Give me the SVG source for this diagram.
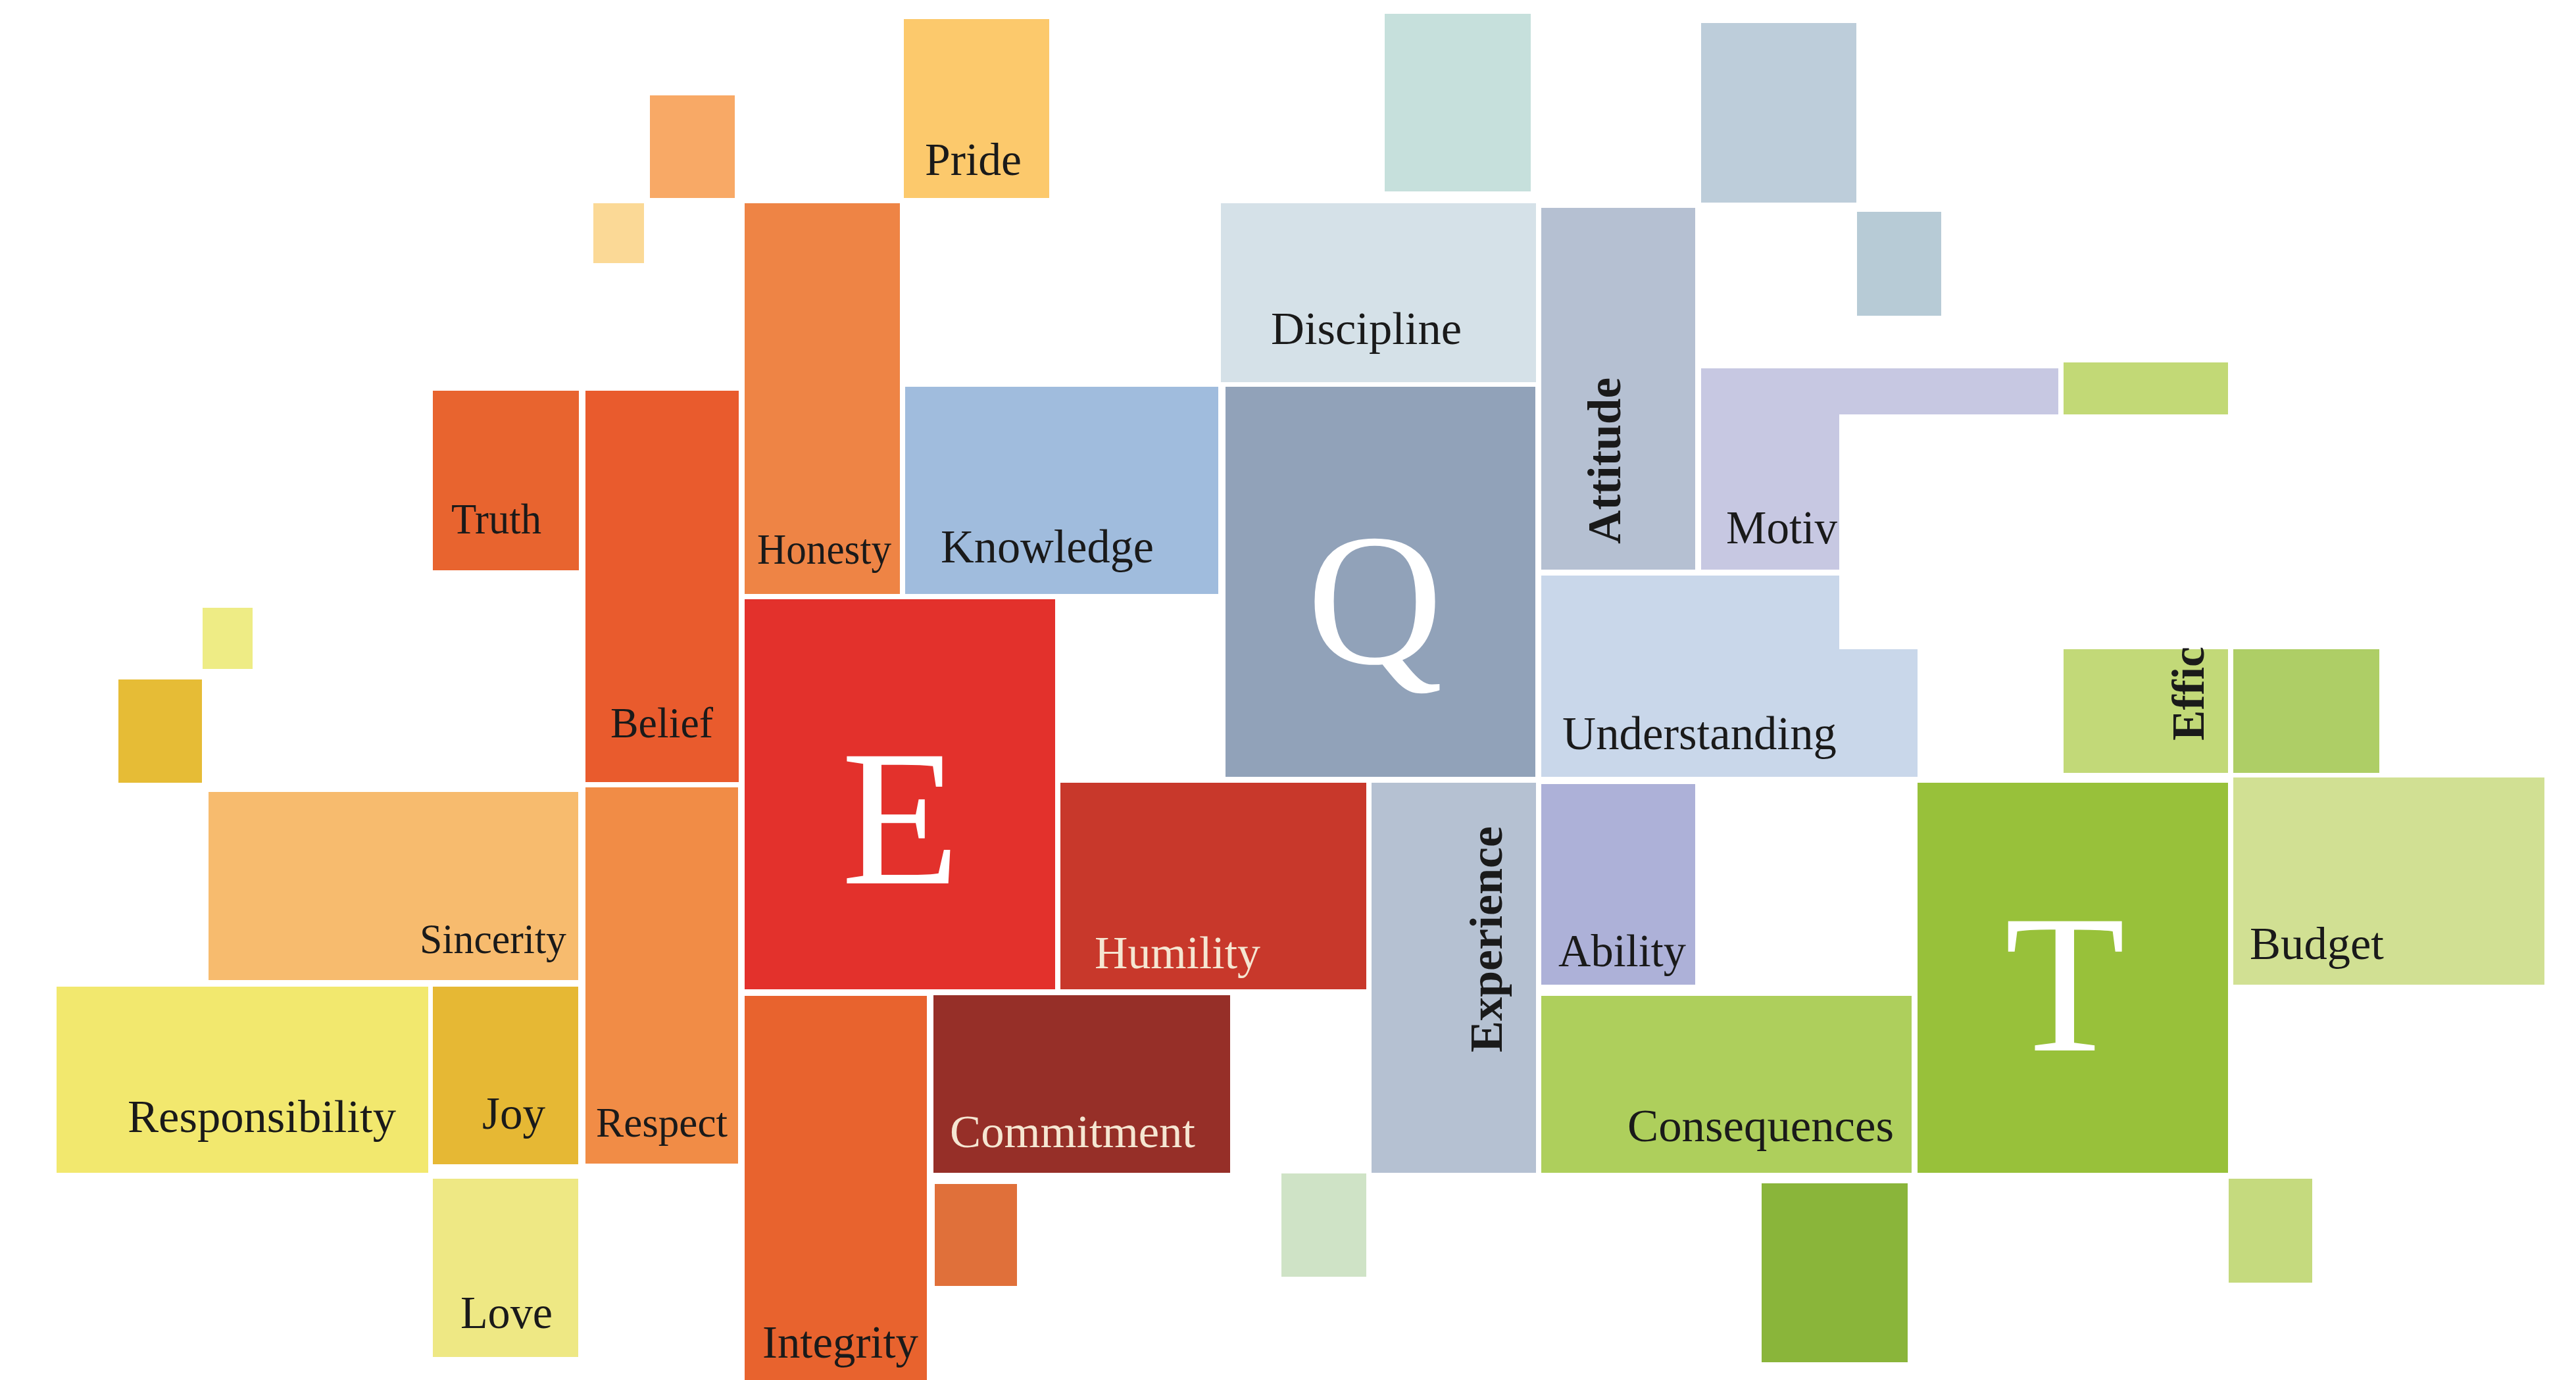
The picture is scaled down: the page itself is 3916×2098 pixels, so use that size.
<svg xmlns="http://www.w3.org/2000/svg" width="3916" height="2098" viewBox="0 0 3916 2098">
<style>
text{font-family:"Liberation Serif","Times New Roman",serif;fill:#1a1a1a}
.t{font-size:70px}
.b{font-weight:bold}
.lt{fill:#f5e6d2}
.big{fill:#ffffff;text-anchor:middle}
</style>
<rect x="0" y="0" width="3916" height="2098" fill="#ffffff"/>
<g id="sq-orange-top"><rect x="988" y="145" width="129" height="156" fill="#f8a966"/></g>
<g id="sq-paleyellow-top"><rect x="902" y="309" width="77" height="91" fill="#fbd996"/></g>
<g id="pride"><rect x="1374" y="29" width="221" height="272" fill="#fcc96c"/><text class="t" x="1406" y="266" font-size="71" textLength="147" lengthAdjust="spacingAndGlyphs">Pride</text></g>
<g id="honesty"><rect x="1132" y="309" width="236" height="594" fill="#ee8445"/><text x="1151" y="857" font-size="66" textLength="204" lengthAdjust="spacingAndGlyphs">Honesty</text></g>
<g id="truth"><rect x="658" y="594" width="222" height="273" fill="#e8642f"/><text x="686" y="811" font-size="66" textLength="137" lengthAdjust="spacingAndGlyphs">Truth</text></g>
<g id="belief"><rect x="890" y="594" width="233" height="595" fill="#e95b2d"/><text x="928" y="1121" font-size="66" textLength="156" lengthAdjust="spacingAndGlyphs">Belief</text></g>
<g id="sq-paleyellow-left"><rect x="308" y="924" width="76" height="93" fill="#eeec85"/></g>
<g id="sq-gold-left"><rect x="180" y="1033" width="127" height="157" fill="#e6bc36"/></g>
<g id="sincerity"><rect x="317" y="1204" width="562" height="286" fill="#f7bb6e"/><text x="638" y="1449" font-size="63" textLength="223" lengthAdjust="spacingAndGlyphs">Sincerity</text></g>
<g id="respect"><rect x="890" y="1197" width="232" height="572" fill="#f18c46"/><text x="906" y="1728" font-size="64" textLength="200" lengthAdjust="spacingAndGlyphs">Respect</text></g>
<g id="responsibility"><rect x="86" y="1500" width="565" height="283" fill="#f2e86e"/><text x="194" y="1721" font-size="70" textLength="408" lengthAdjust="spacingAndGlyphs">Responsibility</text></g>
<g id="joy"><rect x="658" y="1500" width="221" height="270" fill="#e6b834"/><text x="733" y="1716" font-size="70" textLength="96" lengthAdjust="spacingAndGlyphs">Joy</text></g>
<g id="love"><rect x="658" y="1792" width="221" height="271" fill="#eee884"/><text x="700" y="2019" font-size="70" textLength="140" lengthAdjust="spacingAndGlyphs">Love</text></g>
<g id="E"><rect x="1132" y="911" width="472" height="593" fill="#e3312c"/><text class="big" x="1369" y="1343" font-size="295">E</text></g>
<g id="knowledge"><rect x="1376" y="588" width="476" height="315" fill="#a0bcdd"/><text x="1430" y="855" font-size="71" textLength="324" lengthAdjust="spacingAndGlyphs">Knowledge</text></g>
<g id="humility"><rect x="1612" y="1190" width="465" height="314" fill="#c8382b"/><text class="lt" x="1664" y="1472" font-size="70" textLength="252" lengthAdjust="spacingAndGlyphs">Humility</text></g>
<g id="integrity"><rect x="1132" y="1514" width="277" height="584" fill="#e8632e"/><text x="1159" y="2064" font-size="70" textLength="237" lengthAdjust="spacingAndGlyphs">Integrity</text></g>
<g id="commitment"><rect x="1419" y="1513" width="451" height="270" fill="#962f28"/><text class="lt" x="1444" y="1744" font-size="70" textLength="373" lengthAdjust="spacingAndGlyphs">Commitment</text></g>
<g id="sq-orange-bottom"><rect x="1421" y="1800" width="125" height="155" fill="#e0703a"/></g>
<g id="sq-teal-top"><rect x="2105" y="21" width="222" height="270" fill="#c6e0dc"/></g>
<g id="sq-bluegray-top"><rect x="2586" y="35" width="236" height="273" fill="#bdcdda"/></g>
<g id="sq-bluegray-small"><rect x="2823" y="322" width="128" height="158" fill="#b7cbd6"/></g>
<g id="discipline"><rect x="1856" y="309" width="479" height="272" fill="#d5e1e8"/><text x="1932" y="523" font-size="70" textLength="290" lengthAdjust="spacingAndGlyphs">Discipline</text></g>
<g id="Q"><rect x="1863" y="588" width="471" height="593" fill="#91a2b9"/><text class="big" x="2090" y="1008" font-size="286">Q</text></g>
<g id="attitude"><rect x="2343" y="316" width="234" height="550" fill="#b5c0d2"/><text class="b" transform="translate(2463 827) rotate(-90)" x="0" y="0" font-size="72" textLength="253" lengthAdjust="spacingAndGlyphs">Attitude</text></g>
<g id="motiv"><path d="M2586 560H3129V630H2796V866H2586Z" fill="#c7c8e2"/><text x="2624" y="826" font-size="71" textLength="169" lengthAdjust="spacingAndGlyphs">Motiv</text></g>
<g id="sq-green-topright"><rect x="3137" y="551" width="250" height="79" fill="#c2d976"/></g>
<g id="understanding"><path d="M2343 875H2796V987H2915V1181H2343Z" fill="#c9d7ea"/><text x="2375" y="1139" font-size="72" textLength="417" lengthAdjust="spacingAndGlyphs">Understanding</text></g>
<g id="experience"><rect x="2085" y="1190" width="250" height="593" fill="#b5c1d2"/><text class="b" transform="translate(2283 1600) rotate(-90)" x="0" y="0" font-size="70" textLength="344" lengthAdjust="spacingAndGlyphs">Experience</text></g>
<g id="ability"><rect x="2343" y="1192" width="234" height="305" fill="#adb1d8"/><text x="2369" y="1469" font-size="69" textLength="194" lengthAdjust="spacingAndGlyphs">Ability</text></g>
<g id="consequences"><rect x="2343" y="1514" width="563" height="269" fill="#aecf5c"/><text x="2474" y="1735" font-size="70" textLength="405" lengthAdjust="spacingAndGlyphs">Consequences</text></g>
<g id="sq-palegreen-bottom"><rect x="1948" y="1784" width="129" height="157" fill="#cfe3c6"/></g>
<g id="sq-darkgreen-bottom"><rect x="2678" y="1799" width="222" height="272" fill="#8ab53a"/></g>
<g id="effic"><rect x="3137" y="987" width="250" height="188" fill="#c2d978"/><text class="b" transform="translate(3350 1126) rotate(-90)" x="0" y="0" font-size="70" textLength="143" lengthAdjust="spacingAndGlyphs">Effic</text></g>
<g id="sq-green-right"><rect x="3395" y="987" width="222" height="188" fill="#aece66"/></g>
<g id="T"><rect x="2915" y="1190" width="472" height="593" fill="#98c13a"/><text class="big" x="3139" y="1597" font-size="300">T</text></g>
<g id="budget"><rect x="3395" y="1182" width="473" height="315" fill="#d1e093"/><text x="3420" y="1458" font-size="70" textLength="204" lengthAdjust="spacingAndGlyphs">Budget</text></g>
<g id="sq-palegreen-right"><rect x="3388" y="1792" width="127" height="158" fill="#c5da7e"/></g>
</svg>
